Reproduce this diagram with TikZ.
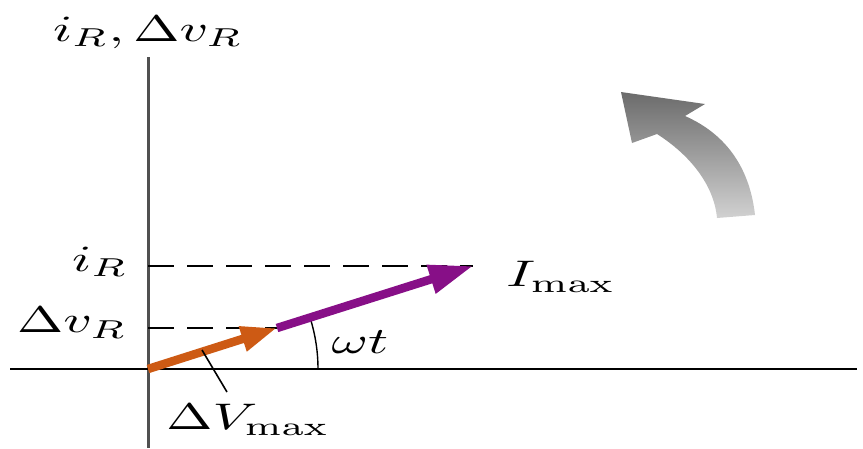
\documentclass[tikz,border=0pt]{standalone}
\usetikzlibrary{arrows.meta}
\definecolor{vpurple}{RGB}{135,15,135}
\definecolor{vorange}{RGB}{205,90,20}
\definecolor{axgray}{RGB}{80,80,80}
\begin{document}
\begin{tikzpicture}[x=1pt,y=-1pt,
  lbl/.style={scale=3.7, xscale=1.5, inner sep=0pt},
  dashline/.style={line width=1.4pt, dash pattern=on 26pt off 13pt},
  phasor/.style={line width=8.5pt, -{Triangle[length=36pt,width=24pt]}}]
\useasboundingbox (0,0) rectangle (863,448);
\coordinate (O) at (148,369);
\coordinate (A) at (277,328);
\coordinate (B) at (473,266);
\coordinate (VT) at (148,57);
\coordinate (VB) at (148,448);
\coordinate (HL) at (10,369);
\coordinate (HR) at (857,369);
\coordinate (IRL) at (148,266);
\coordinate (VRL) at (148,328);
% curved arrow
\shade[top color=black!58, bottom color=black!18]
  (755,215) .. controls (750,170) and (728,135) .. (685,116)
  -- (705,104) -- (621,92) -- (632,143) -- (657,134)
  .. controls (690,155) and (714,185) .. (717,218) -- cycle;
% axes
\draw[axgray, line width=3pt] (VT) -- (VB);
\draw[black, line width=1.3pt] (HL) -- (HR);
% dashed guides
\draw[dashline] (IRL) -- (B);
\draw[dashline] (VRL) -- (A);
% angle arc
\draw[line width=1.4pt] (318,369) arc[start angle=0, end angle=-17.6, radius=170];
% phasors
\draw[phasor, vorange] (O) -- (A);
\draw[phasor, vpurple, -{Triangle[length=44pt,width=28pt]}] (A) -- (B);
% pointer
\coordinate (P1) at (202,350);
\coordinate (P2) at (227,392);
\draw[line width=1.6pt] (P1) -- (P2);
% labels
\node[lbl] (top) at (148,32) {$i_R,\Delta v_R$};
\node[lbl] (iR) at (100,262) {$i_R$};
\node[lbl] (vR) at (72,323) {$\Delta v_R$};
\node[lbl] (Imax) at (561,277) {$I_{\max}$};
\node[lbl] (wt) at (360,342) {$\omega t$};
\node[lbl] (Vmax) at (248,420) {$\Delta V_{\max}$};
\end{tikzpicture}
\end{document}
